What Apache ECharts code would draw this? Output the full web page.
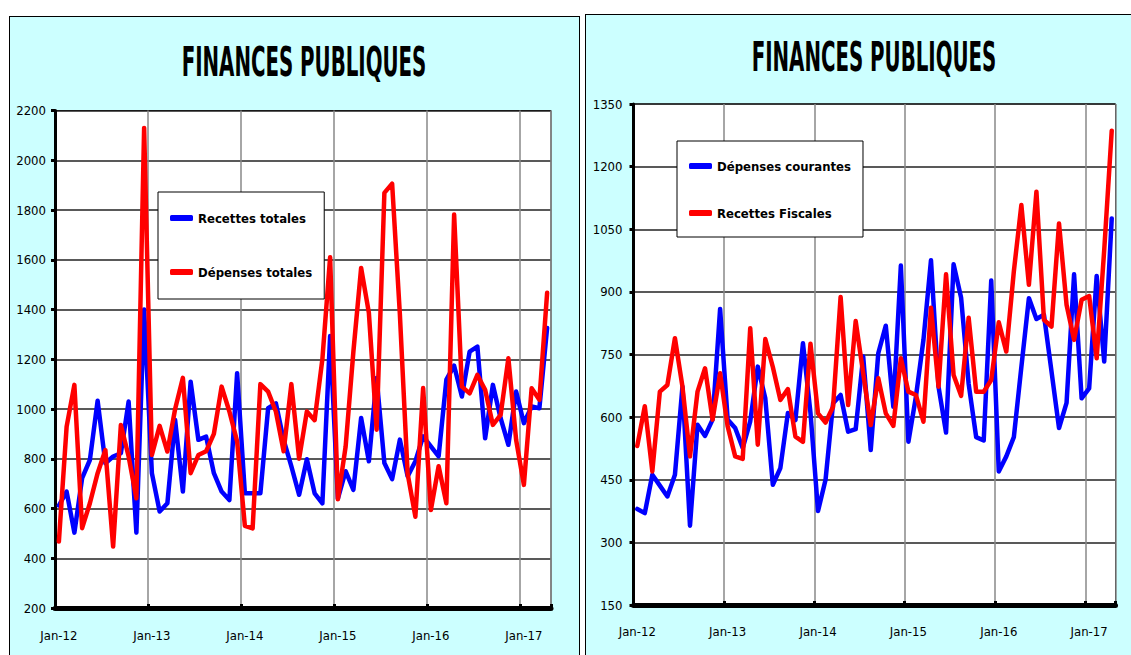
<!DOCTYPE html>
<html>
<head>
<meta charset="utf-8">
<script src="https://cdn.jsdelivr.net/npm/echarts@6/dist/echarts.min.js"></script>
<style>
  html, body { margin: 0; padding: 0; background: #fff; overflow: hidden; width: 1131px; height: 655px; }
  .panneau { position: absolute; background: #ccffff; border: 1px solid #000; box-sizing: border-box; }
  #gauche { left: 9px; top: 16px; width: 571px; height: 645px; }
  #droite { left: 585px; top: 14px; width: 560px; height: 650px; }
</style>
</head>
<body>
<div id="gauche" class="panneau"></div>
<div id="droite" class="panneau"></div>
<script>
// Mois : janvier 2012 -> avril 2017 (64 points)
const nomsMois = ['Jan', 'Feb', 'Mar', 'Apr', 'May', 'Jun', 'Jul', 'Aug', 'Sep', 'Oct', 'Nov', 'Dec'];
const annees = ['12', '13', '14', '15', '16', '17'];
const nbPoints = 64;

// Graphique de gauche
const recettesTotales = [
  612, 668, 503, 722, 795, 1033, 782, 809, 822, 1030, 503, 1400,
  742, 588, 621, 956, 668, 1110, 876, 889, 742, 668, 634, 1144,
  661, 661, 661, 1003, 1023, 876, 769, 655, 798, 661, 621, 1293,
  640, 750, 675, 964, 790, 1125, 783, 718, 877, 729, 790, 890,
  850, 810, 1118, 1174, 1050, 1231, 1251, 882, 1097, 963, 856, 1070,
  943, 1010, 1003, 1326
];
const depensesTotales = [
  467, 929, 1097, 521, 621, 742, 835, 447, 936, 809, 641, 2130,
  815, 932, 829, 1000, 1125, 742, 815, 830, 900, 1090, 990, 870,
  530, 520, 1100, 1070, 990, 830, 1100, 800, 990, 955, 1200, 1610,
  637, 849, 1230, 1567, 1386, 917, 1869, 1906, 1380, 740, 567, 1084,
  594, 770, 621, 1782, 1090, 1063, 1137, 1077, 936, 976, 1204, 876,
  695, 1083, 1037, 1467
];

// Graphique de droite
const depensesCourantes = [
  380, 370, 462, 436, 410, 462, 673, 340, 582, 555, 594, 859,
  594, 574, 526, 590, 721, 645, 438, 478, 610, 593, 777, 610,
  375, 450, 633, 653, 565, 571, 745, 521, 753, 819, 625, 963,
  541, 649, 785, 976, 673, 563, 966, 886, 680, 552, 544, 927,
  470, 506, 552, 720, 885, 835, 845, 710, 574, 634, 942, 645,
  669, 938, 733, 1076
];
const recettesFiscales = [
  531, 626, 470, 661, 677, 789, 673, 506, 661, 717, 594, 705,
  578, 506, 500, 813, 534, 787, 720, 641, 667, 553, 541, 776,
  609, 587, 625, 888, 629, 830, 705, 581, 693, 609, 579, 741,
  661, 653, 589, 862, 673, 942, 701, 651, 838, 661, 661, 689,
  827, 757, 949, 1108, 917, 1140, 833, 817, 1064, 869, 785, 881,
  890, 741, 1000, 1286
];

const mois = [];
annees.forEach(a => nomsMois.forEach(m => mois.push(m + '-' + a)));
mois.length = nbPoints;

const policeEtroite = '"Liberation Sans Narrow", "Arial Narrow", "DejaVu Sans Condensed", sans-serif';
const estJanvier = (index) => index % 12 === 0;

function creerGraphique(el, cfg) {
  const chart = echarts.init(el, null, { renderer: 'svg' });

  const serie = (nom, valeurs, couleur) => ({
    name: nom,
    type: 'line',
    data: valeurs,
    symbol: 'none',
    color: couleur,
    lineStyle: { width: 4.5, color: couleur, join: 'round', cap: 'round' }
  });

  chart.setOption({
    animation: false,
    graphic: [{
      type: 'text',
      x: cfg.titre[0],
      y: cfg.titre[1],
      scaleY: 1.85,
      style: {
        text: 'FINANCES PUBLIQUES',
        fontFamily: policeEtroite,
        fontWeight: 'bold',
        fontSize: 22,
        fill: '#000',
        textAlign: 'center',
        textVerticalAlign: 'middle'
      }
    }],
    legend: {
      orient: 'vertical',
      left: cfg.legende.left,
      top: cfg.legende.top,
      padding: cfg.legende.padding,
      itemGap: cfg.legende.gap,
      itemWidth: 23,
      itemHeight: 6,
      icon: 'roundRect',
      backgroundColor: '#fff',
      borderColor: '#000',
      borderWidth: 1,
      borderRadius: 0,
      textStyle: { fontFamily: policeEtroite, fontWeight: 'bold', fontSize: 13, color: '#000', lineHeight: 18 }
    },
    grid: Object.assign({
      show: true,
      backgroundColor: '#fff',
      borderColor: '#000',
      borderWidth: 1
    }, cfg.grille),
    xAxis: {
      type: 'category',
      data: mois,
      boundaryGap: true,
      axisLine: { lineStyle: { color: '#000', width: 5 } },
      axisTick: { show: true, inside: true, length: 4, interval: estJanvier, lineStyle: { color: '#000', width: 3 } },
      axisLabel: { interval: estJanvier, margin: cfg.margeX, fontFamily: policeEtroite, fontSize: 13, color: '#000' },
      splitLine: { show: true, interval: estJanvier, lineStyle: { color: '#888', width: 1.5 } }
    },
    yAxis: {
      type: 'value',
      min: cfg.min,
      max: cfg.max,
      interval: cfg.pas,
      axisLine: { show: true, lineStyle: { color: '#000', width: 3 } },
      axisTick: { show: true, length: 4, lineStyle: { color: '#000', width: 3 } },
      axisLabel: { margin: cfg.margeY, fontFamily: policeEtroite, fontSize: 13, color: '#000', formatter: v => String(v) },
      splitLine: { show: true, lineStyle: { color: '#222', width: 1.5 } }
    },
    series: [
      serie(cfg.noms[0], cfg.valeurs[0], '#0000ff'),
      serie(cfg.noms[1], cfg.valeurs[1], '#ff0000')
    ]
  });
  return chart;
}

creerGraphique(document.getElementById('gauche'), {
  titre: [294, 45],
  legende: { left: 148, top: 175, padding: [17, 12, 18, 12], gap: 36 },
  grille: { left: 45, top: 93.5, width: 496, height: 497.5 },
  margeX: 21, margeY: 9,
  min: 200, max: 2200, pas: 200,
  noms: ['Recettes totales', 'Dépenses totales'],
  valeurs: [recettesTotales, depensesTotales]
});

creerGraphique(document.getElementById('droite'), {
  titre: [288, 42],
  legende: { left: 91, top: 126, padding: [16, 12, 15, 12], gap: 29 },
  grille: { left: 47.5, top: 89, width: 482, height: 501 },
  margeX: 20, margeY: 11,
  min: 150, max: 1350, pas: 150,
  noms: ['Dépenses courantes', 'Recettes Fiscales'],
  valeurs: [depensesCourantes, recettesFiscales]
});
</script>
</body>
</html>
